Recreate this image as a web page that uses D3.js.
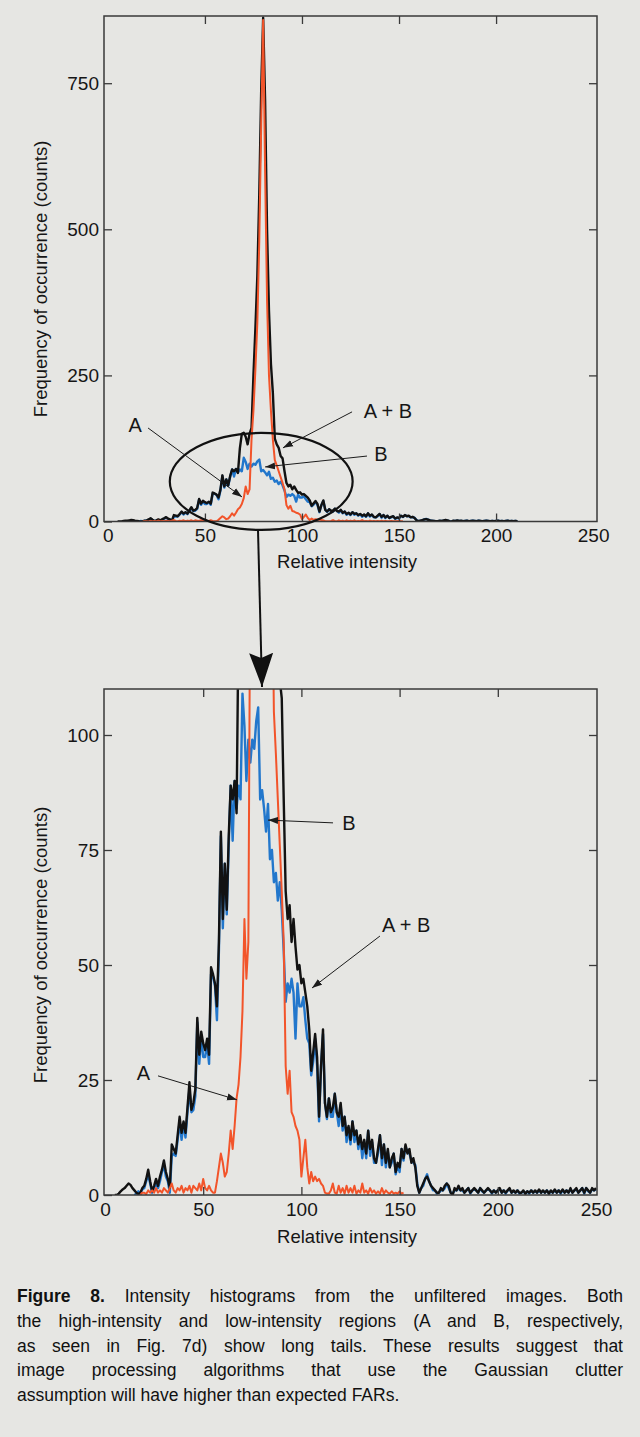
<!DOCTYPE html>
<html>
<head>
<meta charset="utf-8">
<script src="https://cdn.jsdelivr.net/npm/d3@7"></script>
<style>
  body { margin: 0; background: #e6e6e3; }
  #figure8 { position: absolute; left: 0; top: 0; }
  #figure8 text { font-family: "Liberation Sans", Arial, sans-serif; fill: #161616; }
  .caption { position: absolute; left: 17px; top: 1284px; width: 606px;
             font: 17.5px/24.75px "Liberation Sans", Arial, sans-serif; color: #111; }
  .caption div { text-align: justify; text-align-last: justify; white-space: nowrap; }
  .caption div.last { text-align-last: left; }
</style>
</head>
<body>
<svg id="figure8" width="640" height="1437"></svg>
<div class="caption"></div>
<script>
// Histogram counts per relative-intensity bin (one value per unit).
// A + B (black), starts at intensity 5
var totalStart = 5;
var totalAB = [
  0, 0, 0.3, 0.8, 1.2, 1.5, 2, 2.5, 2.2, 1.5,          // 5
  1, 0.5, 0.2, 0.5, 1.5, 2, 3.5, 5.5, 3, 0.8,          // 15
  2, 3.5, 2, 4, 5.5, 7.5, 5, 3.5, 1.5, 11,             // 25
  10, 9, 13, 17, 13.5, 16, 13.5, 19, 24.5, 18.5,       // 35
  20, 23, 38.5, 30.5, 35.5, 33, 31.5, 34, 30.5, 49.5,  // 45
  48, 46, 41, 55, 79, 60, 72, 62, 78, 89,              // 55
  86, 90, 83, 125, 150, 152, 145, 132, 150, 160,       // 65
  250, 330, 420, 560, 740, 862, 720, 500, 360, 270,    // 75
  220, 142, 132, 126, 112, 108, 86, 66, 60, 63,        // 85
  55, 60, 54, 49, 50, 46, 47, 44, 41, 36,              // 95
  27, 31, 35, 30, 17, 28, 36, 20, 17, 21,              // 105
  18, 19, 22, 18, 17, 20, 15, 17, 13, 15,              // 115
  12, 16, 13, 14, 11, 13, 10, 12, 9, 14,               // 125
  10, 12, 8, 7, 10, 13, 8, 11, 7, 10,                  // 135
  6, 8, 9, 5, 7, 6, 10, 8, 11, 9,                      // 145
  10, 7, 8, 6, 2, 0.5, 1.5, 2.5, 3.5, 4,               // 155
  3, 2, 1.5, 1, 0.5, 0.5, 1.5, 1, 2, 2.5,              // 165
  2, 0.5, 0, 1.5, 1, 2, 1, 1.5, 0.5, 1,                // 175
  1.5, 0.5, 1, 1.5, 1, 0.5, 1.5, 1, 0.5, 1,            // 185
  1.5, 1, 0.5, 1, 0.5, 1, 1.5, 0.5, 1, 0.5,            // 195
  1, 1.5, 0.5, 1, 0.5, 1, 0.5, 0.5, 1, 0.3,            // 205
  0.8, 0.5, 1, 0.5, 1, 0.5, 1.2, 0.5, 1, 0.5,          // 215
  1, 0.3, 1, 0.5, 1.2, 0.5, 1, 0.5, 1.2, 0.5,          // 225
  1, 0.5, 1.5, 0.5, 1, 1.5, 0.5, 1, 1.5, 0.5,          // 235
  1.5, 1, 0.5, 1.5, 1, 1.5                             // 245
];

// B, low-intensity region (blue), starts at intensity 15
var regionBStart = 15;
var regionB = [
  0, 0.3, 0.8, 0.3, 1.2, 1.5, 3, 4.5, 2.5, 0.5,        // 15
  1.5, 2.5, 1.5, 3, 5, 6.5, 4, 3, 0.5, 8.5,            // 25
  9, 8.5, 12, 16, 12, 15.5, 12.5, 18, 23, 18,          // 35
  18.5, 21.5, 37.5, 28.5, 34.5, 30, 30, 33, 28.5, 48,  // 45
  47.5, 45.5, 38, 53, 78, 58, 72, 61, 76, 89,          // 55
  77, 90, 84, 89, 86, 109, 102, 90, 99, 94,            // 65
  99, 97, 103, 106, 86, 88, 84, 79, 85, 73,            // 75
  75, 68, 70, 64, 68, 62, 53, 42, 46, 44,              // 85
  47, 44, 34, 46, 41, 41, 43, 38, 34, 33,              // 95
  26, 29, 34, 28, 16, 28, 35, 20, 16.5, 21,            // 105
  17, 17, 22, 18, 15, 19.5, 14, 17, 11.5, 14.5,        // 115
  11, 16, 11.5, 14, 10, 12.5, 8, 11.5, 8, 14,          // 125
  8.5, 11.5, 7, 7, 9, 13, 6.5, 11, 6, 9.5,             // 135
  6, 7, 9, 4.5, 6.5, 5, 10, 7.5, 10.5, 9.5,            // 145
  9, 7.5, 7, 6.5, 2.5, 0.5, 1.5, 2, 3.5, 4.5,          // 155
  3, 2, 1, 1, 0.3, 0.5, 1, 1, 1.5, 2.5,                // 165
  1.5, 0.5, 0.3, 1, 1, 1.5, 1, 1, 0.5, 1,              // 175
  1.5, 0.3, 1, 1.2, 1, 0.5, 1.5, 0.8, 0.5, 1,          // 185
  1.2, 1, 0.3, 1, 0.5, 1, 1.2, 0.5, 1, 0.3,            // 195
  1, 1.2, 0.5, 0.8, 0.5, 1, 0.3, 0.5, 0.8, 0.3,        // 205
  0.8, 0.3, 1, 0.5, 0.8, 0.5, 1, 0.5, 0.8, 0.5,        // 215
  1, 0.3, 0.8, 0.5, 1, 0.5, 1, 0.3, 1, 0.5,            // 225
  1, 0.5, 1.2, 0.5, 1, 1.2, 0.5, 1, 1.5, 0.3,          // 235
  1.5, 0.8, 0.5, 1.2, 1, 1.2                           // 245
];

// A, high-intensity region (orange), starts at intensity 18
var regionAStart = 18;
var regionA = [
  0, 0.5, 0.5, 0.2, 1, 0.5, 1, 0.5, 1.5, 0.5,          // 18
  1, 0.5, 1.5, 1, 0.5, 1.5, 2.5, 1, 0.5, 1.5,          // 28
  1, 2, 0.5, 1.5, 1, 2, 0.5, 2, 1.5, 1,                // 38
  2.5, 1, 3.5, 1.5, 1, 2, 1, 0.5, 0.5, 3,              // 48
  6, 9, 7, 4, 5, 9, 14, 10, 15, 21,                    // 58
  24, 30, 40, 60, 47, 55, 140, 190, 260, 340,          // 68
  480, 680, 858, 600, 380, 250, 190, 140, 105, 96,     // 78
  86, 76, 66, 55, 28, 22, 27, 18, 17, 15,              // 88
  14, 12, 4, 8, 12, 6, 2.5, 5, 3, 4,                   // 98
  3, 3.5, 2.5, 2, 0.5, 0.3, 0.3, 1, 2.5, 0.5,          // 108
  0.3, 2, 0.5, 1.5, 0.3, 2, 0.5, 1.5, 0.5, 2,          // 118
  0.3, 1, 0.5, 2.5, 0.5, 1, 0.3, 1.5, 0.5, 1,          // 128
  0.3, 0.8, 0.3, 1.5, 0.3, 1, 0.5, 0.3, 0.8, 0.3,      // 138
  0.5, 0.3, 0.8, 0.3, 0.5                              // 148
];

var xTickValues = [0, 50, 100, 150, 200, 250];
var yTicksFull = [0, 250, 500, 750];
var yTicksZoom = [0, 25, 50, 75, 100];

var captionLines = [
  "<b>Figure 8.</b> Intensity histograms from the unfiltered images. Both",
  "the high-intensity and low-intensity regions (A and B, respectively,",
  "as seen in Fig. 7d) show long tails. These results suggest that",
  "image processing algorithms that use the Gaussian clutter",
  "assumption will have higher than expected FARs."
];

var figure8 = {};
var svg = d3.select("#figure8");
var fontFamily = '"Liberation Sans", Arial, sans-serif';

figure8.points = function (start, values, maxX) {
  return values
    .map(function (v, i) { return [start + i, v]; })
    .filter(function (d) { return d[0] <= maxX; });
};

// arrowheads
var defs = svg.append("defs");
defs.append("marker")
    .attr("id", "head")
    .attr("markerUnits", "userSpaceOnUse")
    .attr("markerWidth", 11).attr("markerHeight", 8)
    .attr("refX", 10).attr("refY", 4)
    .attr("orient", "auto")
  .append("path")
    .attr("d", "M0,0.5 L10,4 L0,7.5 Z")
    .attr("fill", "#1c1c1c");
defs.append("marker")
    .attr("id", "bighead")
    .attr("markerUnits", "userSpaceOnUse")
    .attr("markerWidth", 36).attr("markerHeight", 26)
    .attr("refX", 34).attr("refY", 13)
    .attr("orient", "auto")
  .append("path")
    .attr("d", "M0,1 L34,13 L0,25 L5,13 Z")
    .attr("fill", "#111");

figure8.panel = function (p) {
  var x = d3.scaleLinear().domain(p.xDomain).range([p.left, p.right]);
  var y = d3.scaleLinear().domain(p.yDomain).range([p.bottom, p.top]);

  defs.append("clipPath").attr("id", "clip-" + p.name)
    .append("rect")
      .attr("x", p.left).attr("y", p.top)
      .attr("width", p.right - p.left).attr("height", p.bottom - p.top);

  var line = d3.line()
      .x(function (d) { return x(d[0]); })
      .y(function (d) { return y(d[1]); });

  var plot = svg.append("g").attr("clip-path", "url(#clip-" + p.name + ")");
  var series = [
    { data: figure8.points(regionBStart, regionB, p.maxX), color: "#2277cc", width: 2.4 },
    { data: figure8.points(totalStart, totalAB, p.maxX), color: "#121212", width: 2.4 },
    { data: figure8.points(regionAStart, regionA, p.maxX), color: "#f2542a", width: 2 }
  ];
  series.forEach(function (s) {
    plot.append("path")
        .datum(s.data)
        .attr("d", line)
        .attr("fill", "none")
        .attr("stroke", s.color)
        .attr("stroke-width", s.width)
        .attr("stroke-linejoin", "round");
  });

  // axes: inward ticks on all four sides
  function style(g) {
    g.select(".domain").remove();
    g.attr("font-size", 19).attr("font-family", fontFamily).attr("color", "#3a3a3a");
    g.selectAll(".tick line").attr("stroke-width", 1.3);
  }
  svg.append("g")
      .attr("transform", "translate(0," + p.bottom + ")")
      .call(d3.axisBottom(x).tickValues(xTickValues).tickSize(-8).tickPadding(p.xPad))
      .call(style)
      .call(function (g) {
        g.selectAll(".tick line").filter(function (d) { return d === 0 || d === 250; }).remove();
      });
  svg.append("g")
      .attr("transform", "translate(0," + p.top + ")")
      .call(d3.axisTop(x).tickValues(xTickValues.slice(1, -1)).tickSize(-8).tickFormat(""))
      .call(style);
  svg.append("g")
      .attr("transform", "translate(" + p.left + ",0)")
      .call(d3.axisLeft(y).tickValues(p.yTicks).tickSize(-8).tickPadding(5))
      .call(style);
  svg.append("g")
      .attr("transform", "translate(" + p.right + ",0)")
      .call(d3.axisRight(y).tickValues(p.yTicks.slice(1)).tickSize(-8).tickFormat(""))
      .call(style);

  svg.append("rect")
      .attr("x", p.left).attr("y", p.top)
      .attr("width", p.right - p.left).attr("height", p.bottom - p.top)
      .attr("fill", "none").attr("stroke", "#3a3a3a").attr("stroke-width", 1.5);

  svg.append("text")
      .attr("x", 347).attr("y", p.xTitleY)
      .attr("text-anchor", "middle").attr("font-size", 18.5)
      .text("Relative intensity");
  svg.append("text")
      .attr("transform", "translate(47," + p.yTitleY + ") rotate(-90)")
      .attr("text-anchor", "middle").attr("font-size", 18.5)
      .text("Frequency of occurrence (counts)");

  if (p.ellipse) {
    var e = p.ellipse;
    svg.append("ellipse")
        .attr("cx", x(e.cx)).attr("cy", y(e.cy))
        .attr("rx", x(e.cx + e.rx) - x(e.cx)).attr("ry", y(0) - y(e.ry))
        .attr("fill", "none").attr("stroke", "#111").attr("stroke-width", 2.2);
  }

  p.notes.forEach(function (n) {
    svg.append("line")
        .attr("x1", x(n.from[0])).attr("y1", y(n.from[1]))
        .attr("x2", x(n.to[0])).attr("y2", y(n.to[1]))
        .attr("stroke", "#1c1c1c").attr("stroke-width", 1)
        .attr("marker-end", "url(#head)");
    svg.append("text")
        .attr("x", x(n.at[0])).attr("y", y(n.at[1]))
        .attr("text-anchor", "middle").attr("font-size", 20)
        .text(n.label);
  });
};

figure8.panel({
  name: "full", left: 104, right: 597, top: 16, bottom: 521.5,
  xDomain: [-2, 252], yDomain: [0, 865], yTicks: yTicksFull, maxX: 211,
  xPad: 7, xTitleY: 568, yTitleY: 279,
  ellipse: { cx: 79, cy: 68.5, rx: 47.1, ry: 83 },
  notes: [
    { label: "A", at: [14, 153], from: [20.7, 160], to: [69.1, 42] },
    { label: "A + B", at: [144.3, 177], from: [125.8, 187.6], to: [90.2, 126] },
    { label: "B", at: [140.7, 103.6], from: [133.5, 112], to: [81, 93.4] }
  ]
});

figure8.panel({
  name: "zoom", left: 104, right: 597, top: 689, bottom: 1195,
  xDomain: [-0.5, 250.5], yDomain: [0, 110], yTicks: yTicksZoom, maxX: 250,
  xPad: 8, xTitleY: 1243, yTitleY: 945,
  notes: [
    { label: "B", at: [124.2, 79.3], from: [116.1, 80.9], to: [83, 81.5] },
    { label: "A + B", at: [153.3, 57.2], from: [140, 56.3], to: [105.4, 45] },
    { label: "A", at: [19.6, 25], from: [27, 25.9], to: [67.2, 20.7] }
  ]
});

// arrow from the circled region down to the zoomed panel
svg.append("line")
    .attr("x1", 258).attr("y1", 530).attr("x2", 262).attr("y2", 687)
    .attr("stroke", "#111").attr("stroke-width", 2)
    .attr("marker-end", "url(#bighead)");

d3.select(".caption").selectAll("div")
    .data(captionLines)
    .enter().append("div")
    .attr("class", function (d, i) { return i === captionLines.length - 1 ? "last" : null; })
    .html(function (d) { return d; });
</script>
</body>
</html>
